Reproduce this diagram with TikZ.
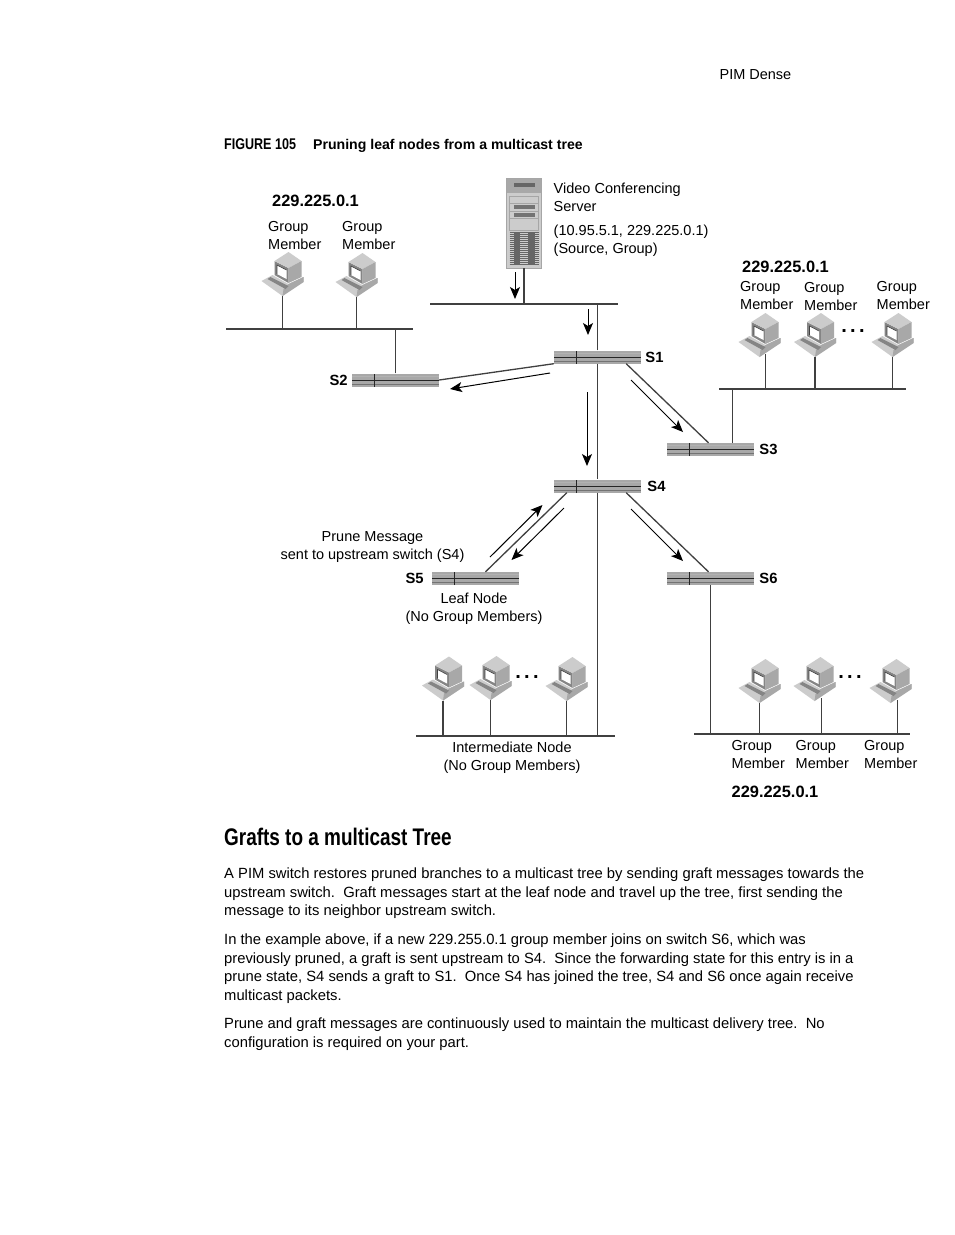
\documentclass[tikz,border=0pt]{standalone}
\usepackage{fontspec}
\setmainfont{Liberation Sans}
\usepackage{tikz}
\usetikzlibrary{arrows.meta, positioning, calc}
\definecolor{swgray}{gray}{0.66}
\definecolor{pcdark}{gray}{0.52}
\definecolor{pcmid}{gray}{0.66}
\definecolor{pclight}{gray}{0.8}
\tikzset{
    lbl/.style={font=\fontsize{14.5}{18}\selectfont, align=left, inner sep=0pt},
    lblc/.style={font=\fontsize{14.5}{18}\selectfont, align=center, inner sep=0pt},
    addr/.style={font=\fontsize{16.4}{18}\selectfont\bfseries, inner sep=0pt},
    swname/.style={font=\fontsize{14.8}{16}\selectfont\bfseries, inner sep=0pt},
    body/.style={font=\fontsize{14.78}{18.7}\selectfont, align=left, inner sep=0pt, anchor=north west},
    bus/.style={line width=1.3pt, draw=black!75},
    link/.style={line width=1.3pt, draw=black!75},
    flow/.style={-{Stealth[length=12pt, width=10pt, inset=3pt]}, line width=1pt, draw=black},
    dots/.style={font=\fontsize{20}{20}\selectfont\bfseries, inner sep=0pt},
    switchbox/.style={
        rectangle, minimum width=87pt, minimum height=13pt, inner sep=0pt, fill=swgray,
        path picture={
            \draw[black!85, line width=1pt] (path picture bounding box.west) -- (path picture bounding box.east);
            \draw[white!70!black, line width=0.7pt] ([yshift=3.8pt]path picture bounding box.west) -- ([yshift=3.8pt]path picture bounding box.east);
            \draw[black!55, line width=0.7pt] ([yshift=-4.2pt]path picture bounding box.west) -- ([yshift=-4.2pt]path picture bounding box.east);
            \draw[black!85, line width=0.8pt] ([xshift=22pt]path picture bounding box.south west) -- ([xshift=22pt]path picture bounding box.north west);
        },
    },
    pc/.style={
        rectangle, minimum width=42pt, minimum height=44pt, inner sep=0pt,
        path picture={
            % keyboard and base
            \fill[pclight] (-21,7) -- (-10,1) -- (6,10) -- (21,3) -- (21,8) -- (0,22) -- cycle;
            \fill[pcmid] (0,22) -- (21,8) -- (21,3) -- (6,10) -- (1,15) -- cycle;
            \fill[pcdark] (-12,3) -- (6,12) -- (3,15) -- (-15,5) -- cycle;
            % monitor
            \fill[pcdark] (-8,-13) -- (6,-6) -- (6,9) -- (-8,1) -- cycle;
            \fill[pclight] (-8,-13) -- (6,-22) -- (19,-13) -- (6,-6) -- cycle;
            \fill[pcmid] (6,-6) -- (19,-13) -- (19,3) -- (6,9) -- cycle;
            \fill[white] (-5.5,-9) -- (4,-4) -- (4,5) -- (-5.5,0) -- cycle;
            \draw[black!75, line width=0.6pt] (-5.5,0) -- (-5.5,-9) -- (4,-4);
        },
    },
    serverbox/.style={
        rectangle, minimum width=35pt, minimum height=90pt, inner sep=0pt, fill=pclight, draw=black!35, line width=0.8pt,
        path picture={
            \fill[pcmid] (-17.5,-45) rectangle (17.5,-30);
            \fill[black!60] (-10.5,-40) rectangle (10.5,-36);
            \draw[black!35, line width=0.5pt] (-14.5,-27) rectangle (14.5,7) (-14.5,-20) -- (14.5,-20) (-14.5,-12) -- (14.5,-12) (-14.5,-5) -- (14.5,-5);
            \fill[black!55] (-10.5,-18) rectangle (10.5,-14);
            \fill[black!55] (-10.5,-10.5) rectangle (10.5,-6.5);
            \foreach \yy in {9,11,...,41}{\draw[black!60, line width=0.6pt] (-14.5,\yy) -- (14.5,\yy);}
            \fill[black!60] (-10.5,9) rectangle (-4.5,42);
            \fill[black!60] (3.5,9) rectangle (10.5,42);
        },
    },
}
\begin{document}
\begin{tikzpicture}[x=1pt, y=-1pt]
    \useasboundingbox[fill=white] (0,0) rectangle (954,1235);

    % page text
    \node[lbl, anchor=base east] (pagehead) at (791.5,79) {PIM Dense};
    \node[font=\fontsize{15.5}{18}\selectfont\bfseries, inner sep=0pt, anchor=base west, xscale=0.81, transform shape] (figno) at (224,149) {FIGURE 105};
    \node[font=\fontsize{14.1}{18}\selectfont\bfseries, inner sep=0pt, anchor=base west] (figcap) at (313,149) {Pruning leaf nodes from a multicast tree};

    % server
    \node[serverbox] (server) at (524,223) {};
    \node[lbl, anchor=north west] (srvname) at (553.5,182.5) {Video Conferencing\\Server};
    \node[lbl, anchor=north west] (srvaddr) at (553.5,225) {(10.95.5.1, 229.225.0.1)\\(Source, Group)};

    % switches
    \node[switchbox] (s1) at (597.5,357) {};
    \node[switchbox] (s2) at (395.5,380) {};
    \node[switchbox] (s3) at (710.5,449.5) {};
    \node[switchbox] (s4) at (597.5,486) {};
    \node[switchbox] (s5) at (475.5,578.5) {};
    \node[switchbox] (s6) at (710.5,578.5) {};
    \node[swname, right=4pt of s1] (s1name) {S1};
    \node[swname, left=4pt of s2] (s2name) {S2};
    \node[swname, right=5pt of s3] (s3name) {S3};
    \node[swname, right=6pt of s4] (s4name) {S4};
    \node[swname, left=8pt of s5] (s5name) {S5};
    \node[swname, right=5pt of s6] (s6name) {S6};

    % bus end points
    \coordinate (busTopL) at (430,304);
    \coordinate (busTopR) at (618,304);
    \coordinate (busAL) at (226,329);
    \coordinate (busAR) at (413,329);
    \coordinate (busBL) at (719,389);
    \coordinate (busBR) at (906,389);
    \coordinate (busCL) at (416,736);
    \coordinate (busCR) at (615,736);
    \coordinate (busDL) at (694,734);
    \coordinate (busDR) at (910,734);
    \draw[bus] (busTopL) -- (busTopR);
    \draw[bus] (busAL) -- (busAR);
    \draw[bus] (busBL) -- (busBR);
    \draw[bus] (busCL) -- (busCR);
    \draw[bus] (busDL) -- (busDR);

    % group, upper left
    \node[addr] (addrA) at (315.5,201) {229.225.0.1};
    \node[pc] (pcA1) at (282.5,274) {};
    \node[pc] (pcA2) at (356.5,275) {};
    \node[lbl, anchor=north west] (gmA1) at (268,221.5) {Group\\Member};
    \node[lbl, anchor=north west] (gmA2) at (342,221.5) {Group\\Member};
    \draw[link] (pcA1.south) -- (pcA1.south |- busAL);
    \draw[link] (pcA2.south) -- (pcA2.south |- busAL);

    % group, right
    \node[addr] (addrB) at (785.5,267) {229.225.0.1};
    \node[pc] (pcB1) at (759.5,335) {};
    \node[pc] (pcB2) at (815,335) {};
    \node[pc] (pcB3) at (892.5,335) {};
    \node[dots] (dotsB) at (853,331) {.\,.\,.};
    \node[lbl, anchor=north west] (gmB1) at (740,281.5) {Group\\Member};
    \node[lbl, anchor=north west] (gmB2) at (804,282) {Group\\Member};
    \node[lbl, anchor=north west] (gmB3) at (876.5,281.5) {Group\\Member};
    \draw[link] ($(pcB1.south)+(6,-3)$) -- ($(pcB1.south |- busBL)+(6,0)$);
    \draw[link] (pcB2.south) -- (pcB2.south |- busBL);
    \draw[link] (pcB3.south) -- (pcB3.south |- busBL);

    % group, lower middle
    \node[pc] (pcC1) at (443,678.5) {};
    \node[pc] (pcC2) at (490.5,678) {};
    \node[pc] (pcC3) at (566.5,679) {};
    \node[dots] (dotsC) at (527,677.5) {.\,.\,.};
    \draw[link] (pcC1.south) -- (pcC1.south |- busCL);
    \draw[link] (pcC2.south) -- (pcC2.south |- busCL);
    \draw[link] (pcC3.south) -- (pcC3.south |- busCL);
    \node[lblc] (interm) at (512,758) {Intermediate Node\\(No Group Members)};

    % group, lower right
    \node[pc] (pcD1) at (759.5,681) {};
    \node[pc] (pcD2) at (814.5,679) {};
    \node[pc] (pcD3) at (890.5,681) {};
    \node[dots] (dotsD) at (850,677) {.\,.\,.};
    \draw[link] (pcD1.south) -- (pcD1.south |- busDL);
    \draw[link] ($(pcD2.south)+(7,-3)$) -- ($(pcD2.south |- busDL)+(7,0)$);
    \draw[link] ($(pcD3.south)+(7,-3)$) -- ($(pcD3.south |- busDL)+(7,0)$);
    \node[lbl, anchor=north west] (gmD1) at (731.5,740.5) {Group\\Member};
    \node[lbl, anchor=north west] (gmD2) at (795.5,740.5) {Group\\Member};
    \node[lbl, anchor=north west] (gmD3) at (864,740.5) {Group\\Member};
    \node[addr] (addrD) at (775,792) {229.225.0.1};

    % labels around S5
    \node[lblc] (prune) at (372.5,547) {Prune Message\\sent to upstream switch (S4)};
    \node[lblc, below=8pt of s5, xshift=-1.5pt] (leaf) {Leaf Node\\(No Group Members)};

    % links between switches
    \draw[link] (server.south) -- (server.south |- busTopL);
    \draw[link] (s1.north) -- (s1.north |- busTopL);
    \draw[link] (s1.south) -- (s4.north);
    \draw[link] (s4.south) -- (s4.south |- busCL);
    \draw[link] (s2.north) -- (s2.north |- busAL);
    \draw[link] (s2.east) -- (s1.south west);
    \draw[link] ($(s1.south east)+(-15,0)$) -- ($(s3.north)+(-2,0)$);
    \draw[link] ($(s3.north)+(22,0)$) -- ($(s3.north |- busBL)+(22,0)$);
    \draw[link] ($(s4.south west)+(13,0)$) -- ($(s5.north)+(10,0)$);
    \draw[link] ($(s4.south east)+(-15,0)$) -- ($(s6.north)+(-2,0)$);
    \draw[link] (s6.south) -- (s6.south |- busDL);

    % direction arrows
    \coordinate (arrTopA) at (515,272);
    \coordinate (arrTopB) at (515,299);
    \coordinate (arrS1A) at (588,309);
    \coordinate (arrS1B) at (588,335);
    \coordinate (arrS2A) at (550,373);
    \coordinate (arrS2B) at (450,389);
    \coordinate (arrS3A) at (631,380);
    \coordinate (arrS3B) at (683,432);
    \coordinate (arrS4A) at (587,392);
    \coordinate (arrS4B) at (587,466);
    \coordinate (arrUpA) at (490,557);
    \coordinate (arrUpB) at (542.5,505);
    \coordinate (arrDnA) at (564,508);
    \coordinate (arrDnB) at (511.5,560);
    \coordinate (arrS6A) at (631,509);
    \coordinate (arrS6B) at (683,561);
    \draw[flow] (arrTopA) -- (arrTopB);
    \draw[flow] (arrS1A) -- (arrS1B);
    \draw[flow] (arrS2A) -- (arrS2B);
    \draw[flow] (arrS3A) -- (arrS3B);
    \draw[flow] (arrS4A) -- (arrS4B);
    \draw[flow] (arrUpA) -- (arrUpB);
    \draw[flow] (arrDnA) -- (arrDnB);
    \draw[flow] (arrS6A) -- (arrS6B);

    % section below the figure
    \node[font=\fontsize{24}{28}\selectfont\bfseries, inner sep=0pt, anchor=base west, xscale=0.79, transform shape] (secthead) at (224,845) {Grafts to a multicast Tree};
    \node[body] (para1) at (224,867.5) {A PIM switch restores pruned branches to a multicast tree by sending graft messages towards the\\upstream switch.\ \ Graft messages start at the leaf node and travel up the tree, first sending the\\message to its neighbor upstream switch.};
    \node[body] (para2) at (224,933.5) {In the example above, if a new 229.255.0.1 group member joins on switch S6, which was\\previously pruned, a graft is sent upstream to S4.\ \ Since the forwarding state for this entry is in a\\prune state, S4 sends a graft to S1.\ \ Once S4 has joined the tree, S4 and S6 once again receive\\multicast packets.};
    \node[body] (para3) at (224,1017.5) {Prune and graft messages are continuously used to maintain the multicast delivery tree.\ \ No\\configuration is required on your part.};
\end{tikzpicture}
\end{document}
